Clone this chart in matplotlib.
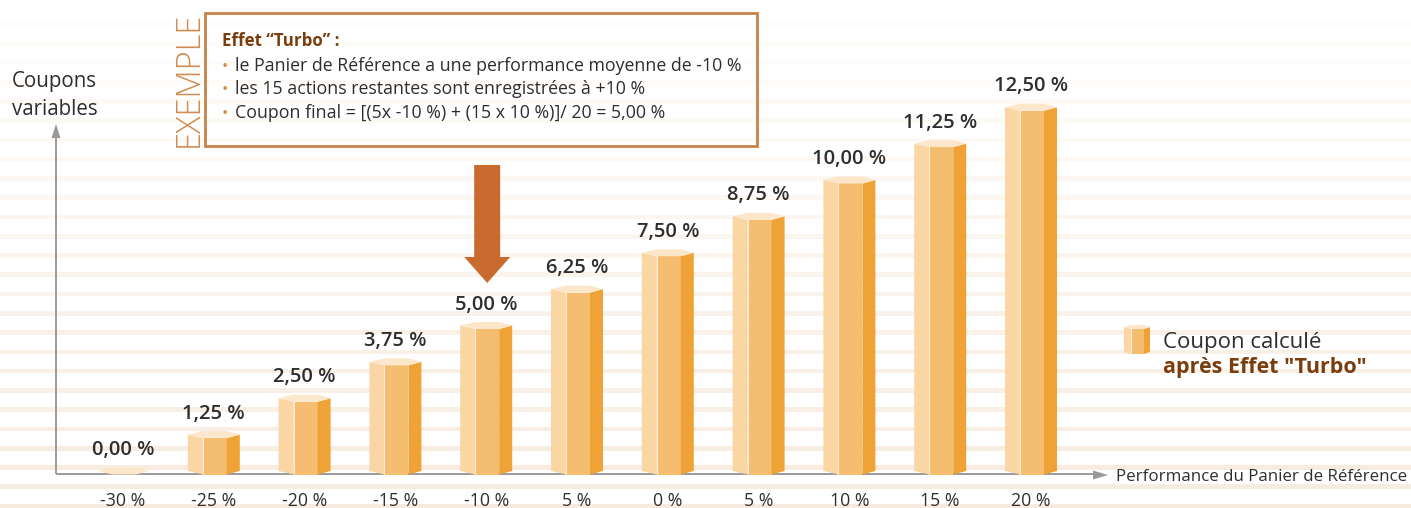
import matplotlib
matplotlib.use('Agg')
import matplotlib.pyplot as plt
from matplotlib.patches import Polygon, Rectangle, FancyArrow
from matplotlib.transforms import blended_transform_factory

# ---------------- data ----------------
categories = ['-30 %', '-25 %', '-20 %', '-15 %', '-10 %', '5 %', '0 %', '5 %', '10 %', '15 %', '20 %']
coupons = [0.00, 1.25, 2.50, 3.75, 5.00, 6.25, 7.50, 8.75, 10.00, 11.25, 12.50]
value_labels = [f"{v:.2f}".replace('.', ',') + ' %' for v in coupons]

y_axis_label = ['Coupons', 'variables']
x_axis_label = 'Performance du Panier de Référence'
legend_lines = ['Coupon calculé', 'après Effet "Turbo"']
example_title = 'Effet “Turbo” :'
example_lines = ['le Panier de Référence a une performance moyenne de -10 %',
                 'les 15 actions restantes sont enregistrées à +10 %',
                 'Coupon final = [(5x -10 %) + (15 x 10 %)]/ 20 = 5,00 %']
highlight_index = 4

# ---------------- style ----------------
plt.rcParams['font.family'] = ['Open Sans', 'DejaVu Sans']
C_LIGHT = '#FAD6A5'
C_MID = '#F4BD70'
C_DARK = '#EFA336'
C_CAP = '#FDE7CB'
TXT = '#2E2E2E'
BROWN = '#7A3E0E'
ORANGE_BOX = '#C8834A'
AXIS_GRAY = '#9A9A9A'

W, H = 1411, 508
fig = plt.figure(figsize=(W / 100, H / 100), dpi=100)

# background (pixel coordinates, y from top)
bg = fig.add_axes([0, 0, 1, 1])
bg.set_xlim(0, W)
bg.set_ylim(H, 0)
bg.axis('off')

n_str = 27
top_c = (255, 254, 252)
bot_c = (247, 235, 223)
for k in range(n_str):
    y = 5 + 19.27 * k
    f = k / (n_str - 1)
    c = tuple((top_c[j] + (bot_c[j] - top_c[j]) * f) / 255 for j in range(3))
    bg.add_patch(Rectangle((0, y - 2.3), W, 4.6, color=c, lw=0, zorder=0))

# main data axes
X0, DX = 123, 90.8       # px of first bar, px per category
Y0, DY = 471, 29.1       # px of zero, px per %
ax = fig.add_axes([0, 0, 1, 1], facecolor='none')
ax.set_xlim(-X0 / DX, (W - X0) / DX)
ax.set_ylim((Y0 - H) / DY, Y0 / DY)
ax.axis('off')

sx, sy = 1 / DX, 1 / DY


def prism(a, L, w1, w2, w3, y0, y1, dd, z=3):
    A = L + w1
    B = A + w2
    R = B + w3
    if y1 != y0:
        a.add_patch(Polygon([(L, y0), (L, y1), (A, y1 + dd), (A, y0 + dd)], closed=True,
                            fc=C_LIGHT, ec='none', zorder=z))
        a.add_patch(Polygon([(A, y0 + dd), (A, y1 + dd), (B, y1 + dd), (B, y0 + dd)], closed=True,
                            fc=C_MID, ec='none', zorder=z))
        a.add_patch(Polygon([(B, y0 + dd), (B, y1 + dd), (R, y1), (R, y0)], closed=True,
                            fc=C_DARK, ec='none', zorder=z))
        a.plot([A, A], [y0 + dd, y1 + dd], color='#FDEBD2', lw=0.8, zorder=z + 0.05)
    a.add_patch(Polygon([(L, y1), (A, y1 + dd), (B, y1 + dd), (R, y1), (B, y1 - dd), (A, y1 - dd)],
                        closed=True, fc=C_CAP, ec='none', zorder=z + 0.1))


for i, v in enumerate(coupons):
    prism(ax, i - 26 * sx, 15 * sx, 24 * sx, 13 * sx, 0, v, -3.5 * sy)
    ax.annotate(value_labels[i], (i, v), xytext=(0, 11.5), textcoords='offset points',
                ha='center', va='baseline', fontsize=14.5, fontweight='semibold', color=TXT,
                zorder=5)

# x tick labels
tr = blended_transform_factory(ax.transData, bg.transData)
for i, lab in enumerate(categories):
    ax.text(i, 506, lab, transform=tr, ha='center', va='baseline', fontsize=12.8, color=TXT)

# axes with arrows
bg.plot([56, 56], [474, 136], color=AXIS_GRAY, lw=1.4, zorder=2, solid_capstyle='butt')
bg.add_patch(Polygon([(51.5, 138), (60.5, 138), (56, 124)], closed=True, fc=AXIS_GRAY, ec='none', zorder=2))
bg.plot([56, 1095], [474, 474], color=AXIS_GRAY, lw=1.4, zorder=2, solid_capstyle='butt')
bg.add_patch(Polygon([(1093, 470.5), (1093, 479.5), (1108, 475)], closed=True, fc=AXIS_GRAY, ec='none', zorder=2))

bg.text(12, 87, y_axis_label[0], fontsize=14.8, color=TXT, va='baseline')
bg.text(12, 115, y_axis_label[1], fontsize=14.8, color=TXT, va='baseline')
bg.text(1116, 481, x_axis_label, fontsize=12.2, color=TXT, va='baseline')

# example box
bg.add_patch(Rectangle((205, 13), 552, 133, fill=False, ec=ORANGE_BOX, lw=2, zorder=4))
bg.text(189, 79.5, 'EXEMPLE', rotation=90, ha='center', va='center', fontsize=23.5,
        fontweight='light', color='#D08C52', zorder=4)
bg.text(222, 46, example_title, fontsize=12.2, fontweight='bold', color=BROWN, va='baseline')
for j, line in enumerate(example_lines):
    yy = 71 + 23.5 * j
    bg.text(222, yy, '•', fontsize=12, color='#E0893C', va='baseline')
    bg.text(235, yy, line, fontsize=12.8, color=TXT, va='baseline')

# down arrow pointing to the highlighted bar
xa = X0 + DX * highlight_index + 1
bg.add_patch(FancyArrow(xa, 165, 0, 118, width=26, head_width=46, head_length=26,
                        length_includes_head=True, fc='#C96B2E', ec='none', zorder=4))

# legend
prism(bg, 1124, 7, 13, 6, 352, 327, 2)
bg.text(1163, 348, legend_lines[0], fontsize=16, color=TXT, va='baseline')
bg.text(1163, 373, legend_lines[1], fontsize=15.5, fontweight='bold', color=BROWN, va='baseline')

fig.savefig('out.png', dpi=100)
